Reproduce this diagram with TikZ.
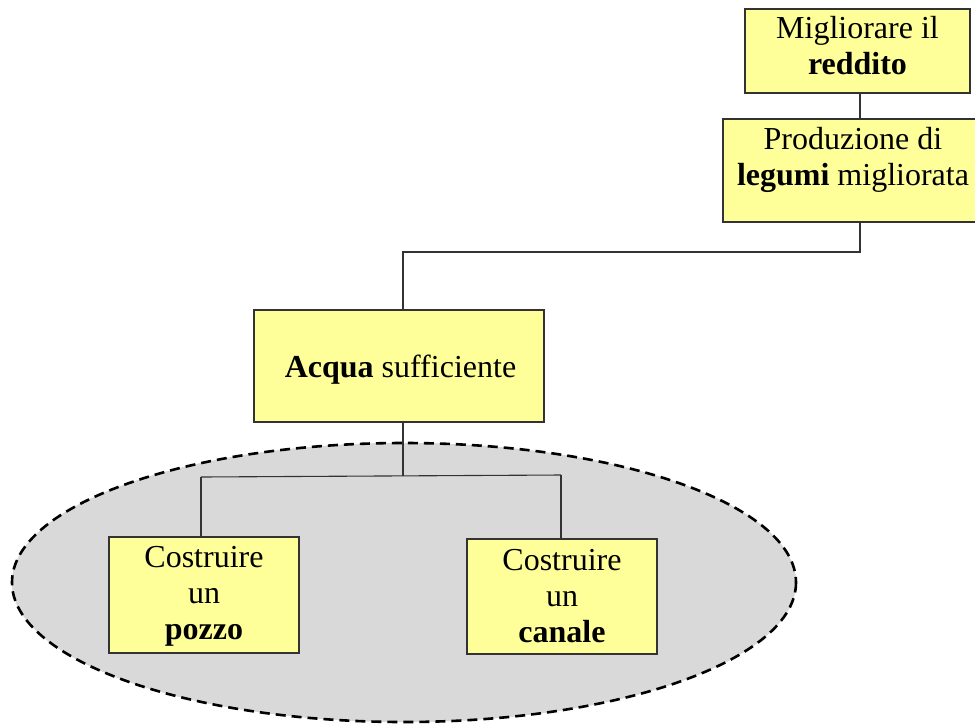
\documentclass[tikz,border=0pt]{standalone}
\usepackage{fontspec}
\setmainfont{Liberation Serif}
\definecolor{boxfill}{HTML}{FFFF99}
\definecolor{boxline}{HTML}{333333}
\definecolor{groupfill}{HTML}{D9D9D9}
\begin{document}
\begin{tikzpicture}[x=1pt,y=-1pt,
  goalbox/.style={draw=boxline,line width=1.4pt,fill=boxfill,rectangle,inner sep=0pt},
  goaltext/.style={align=center,inner sep=0pt,font=\fontsize{32}{36}\selectfont},
  link/.style={draw=boxline,line width=1.1pt},
  group/.style={draw=black,fill=groupfill,line width=2.6pt,dash pattern=on 10pt off 6pt}]
\useasboundingbox (0,0) rectangle (975,724);

% dashed group of activities
\fill[groupfill] (404,582.5) ellipse [x radius=392, y radius=139.5];
\draw[group] (404,582.5) ellipse [x radius=392, y radius=139.5];

% boxes
\node[goalbox,minimum width=225pt,minimum height=84pt] (b1) at (857.5,51) {};
\node[goalbox,minimum width=260pt,minimum height=103pt] (b2) at (853,170.5) {};
\node[goalbox,minimum width=290pt,minimum height=112pt] (b3) at (399,366) {};
\node[goalbox,minimum width=190pt,minimum height=116pt] (b4) at (204,595) {};
\node[goalbox,minimum width=190pt,minimum height=115pt] (b5) at (562,596.5) {};

% junction points of the tree
\coordinate (j1) at (860,252);
\coordinate (j2) at (403,252);
\coordinate (j3) at (403,476);
\coordinate (j4) at (201,477);
\coordinate (j5) at (561,475);

% connectors
\draw[link] (j1 |- b1.south) -- (j1 |- b2.north);
\draw[link] (j1 |- b2.south) -- (j1) -- (j2) -- (j2 |- b3.north);
\draw[link] (j3 |- b3.south) -- (j3);
\draw[link] (j4) -- (j5);
\draw[link] (j4) -- (j4 |- b4.north);
\draw[link] (j5) -- (j5 |- b5.north);

% redraw box outlines above the connector ends
\foreach \b in {b1,b2,b3,b4,b5}{\draw[boxline,line width=1.4pt] (\b.north west) rectangle (\b.south east);}

% labels
\node[goaltext] (t1) at (857.5,49.3) {\strut Migliorare il\\\strut\textbf{reddito}};
\node[goaltext] (t2) at (853,160.3) {\strut Produzione di\\\strut\textbf{legumi} migliorata};
\node[goaltext] (t3) at (400.5,369.8) {\strut\textbf{Acqua} sufficiente};
\node[goaltext] (t4) at (204,595.8) {\strut Costruire\\\strut un\\\strut\textbf{pozzo}};
\node[goaltext] (t5) at (562,598.8) {\strut Costruire\\\strut un\\\strut\textbf{canale}};
\end{tikzpicture}
\end{document}
